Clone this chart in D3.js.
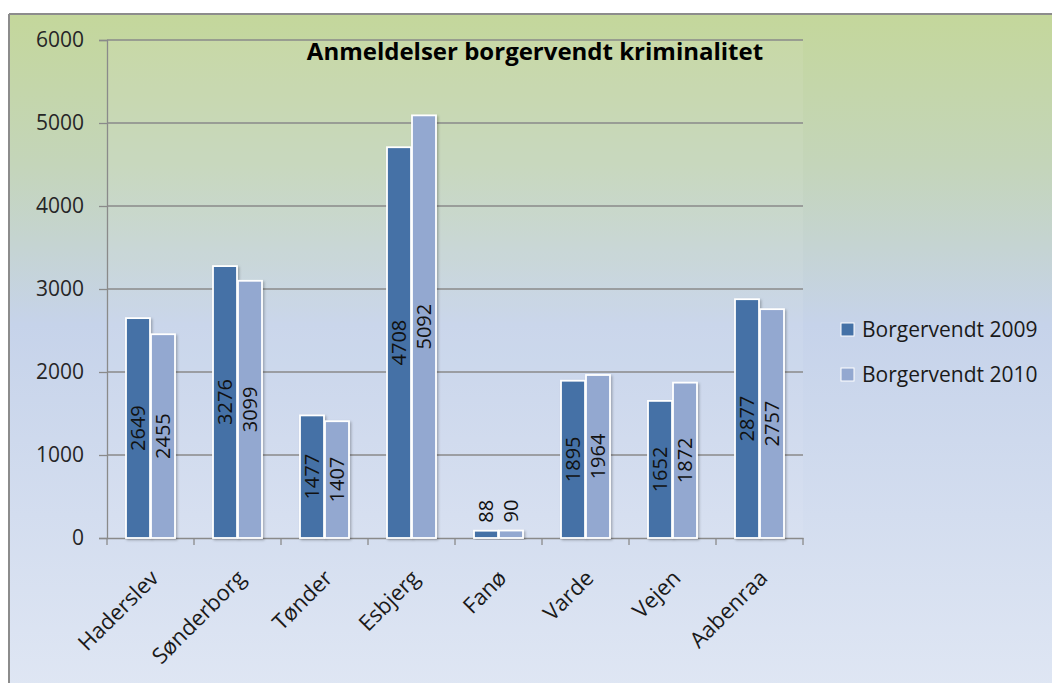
<!DOCTYPE html>
<html>
<head>
<meta charset="utf-8">
<script src="https://cdn.jsdelivr.net/npm/d3@7"></script>
<style>
	body { margin: 0; background: #fff; }
	text { font-family: "Open Sans", Lato, sans-serif; }
</style>
</head>
<body>
<svg id="chart" width="1052" height="683"></svg>
<script>
var categories = ['Haderslev', 'Sønderborg', 'Tønder', 'Esbjerg', 'Fanø', 'Varde', 'Vejen', 'Aabenraa'];
var seriesNames = ['Borgervendt 2009', 'Borgervendt 2010'];
var values2009 = [2649, 3276, 1477, 4708, 88, 1895, 1652, 2877];
var values2010 = [2455, 3099, 1407, 5092, 90, 1964, 1872, 2757];
var yTicks = [0, 1000, 2000, 3000, 4000, 5000, 6000];
var chartTitle = 'Anmeldelser borgervendt kriminalitet';

var colors = ['#4471a6', '#93a8d0'];

drawChart();

function drawChart() {
	var svg = d3.select('#chart');
	var defs = svg.append('defs');

	var bg = defs.append('linearGradient').attr('id', 'bg').attr('x1', 0).attr('y1', 0).attr('x2', 0).attr('y2', 1);
	bg.append('stop').attr('offset', '0%').attr('stop-color', '#c4d79b');
	bg.append('stop').attr('offset', '22%').attr('stop-color', '#c4d5ba');
	bg.append('stop').attr('offset', '45%').attr('stop-color', '#c6d3ea');
	bg.append('stop').attr('offset', '100%').attr('stop-color', '#e0e7f4');

	var shadow = defs.append('filter').attr('id', 'shadow').attr('x', '-20%').attr('y', '-10%').attr('width', '150%').attr('height', '130%');
	shadow.append('feDropShadow').attr('dx', 1.5).attr('dy', 1.5).attr('stdDeviation', 1.2)
		.attr('flood-color', '#000').attr('flood-opacity', 0.25);

	// chart area with frame (left + top edge visible)
	svg.append('rect').attr('x', 9).attr('y', 14).attr('width', 1060).attr('height', 690).style('fill', 'url(#bg)');
	svg.append('line').attr('x1', 9).attr('x2', 1052).attr('y1', 14).attr('y2', 14).style('stroke', '#8c8c8c').style('stroke-width', 2);
	svg.append('line').attr('x1', 9).attr('x2', 9).attr('y1', 14).attr('y2', 683).style('stroke', '#8c8c8c').style('stroke-width', 2);

	var plotLeft = 107, plotRight = 803, plotTop = 40, plotBottom = 538;

	svg.append('rect').attr('x', plotLeft).attr('y', plotTop).attr('width', plotRight - plotLeft).attr('height', plotBottom - plotTop)
		.style('fill', '#fff').style('opacity', 0.07);

	var xScale = d3.scaleBand().domain(categories).range([plotLeft, plotRight]).paddingInner(0).paddingOuter(0);
	var yScale = d3.scaleLinear().domain([0, 6000]).range([plotBottom, plotTop]);
	var groupWidth = 49;
	var xSub = d3.scaleBand().domain([0, 1]).range([0, groupWidth]).paddingInner(0.04);

	// grid lines
	svg.append('g').selectAll('line').data(yTicks.slice(1)).enter().append('line')
		.attr('x1', plotLeft).attr('x2', plotRight)
		.attr('y1', function (d) { return yScale(d); })
		.attr('y2', function (d) { return yScale(d); })
		.style('stroke', '#8a8a8a').style('stroke-width', 1.3);

	// y axis
	var yAxis = d3.axisLeft(yScale).tickValues(yTicks).tickSize(8).tickPadding(15).tickFormat(d3.format('d'));
	var gy = svg.append('g').attr('transform', 'translate(' + plotLeft + ',0)').call(yAxis);
	gy.selectAll('line, path').style('stroke', '#8a8a8a').style('stroke-width', 1.3);
	gy.selectAll('text').style('font-size', '21px').style('fill', '#262626').style('font-family', '"Open Sans", sans-serif');

	// x axis
	var xAxis = d3.axisBottom(xScale).tickSize(0).tickFormat('');
	var gx = svg.append('g').attr('transform', 'translate(0,' + plotBottom + ')').call(xAxis);
	gx.select('path').style('stroke', '#8a8a8a').style('stroke-width', 1.3);
	gx.selectAll('.sep').data(d3.range(categories.length + 1)).enter().append('line')
		.attr('class', 'sep')
		.attr('x1', function (i) { return plotLeft + i * xScale.bandwidth(); })
		.attr('x2', function (i) { return plotLeft + i * xScale.bandwidth(); })
		.attr('y1', 0).attr('y2', 7)
		.style('stroke', '#8a8a8a').style('stroke-width', 1.3);

	gx.selectAll('.cat').data(categories).enter().append('text')
		.attr('class', 'cat')
		.attr('transform', function (d) {
			return 'translate(' + (xScale(d) + xScale.bandwidth() / 2 + 4) + ',' + 36 + ') rotate(-45)';
		})
		.attr('text-anchor', 'end')
		.attr('dy', '0.35em')
		.style('font-size', '22px').style('fill', '#1a1a1a')
		.text(function (d) { return d; });

	// bars
	var series = [values2009, values2010];
	var barData = [];
	series.forEach(function (vals, s) {
		vals.forEach(function (v, i) {
			barData.push({ cat: categories[i], s: s, value: v });
		});
	});

	function barX(d) {
		return xScale(d.cat) + (xScale.bandwidth() - groupWidth) / 2 + xSub(d.s);
	}

	svg.append('g').selectAll('rect').data(barData).enter().append('rect')
		.attr('x', barX)
		.attr('y', function (d) { return yScale(d.value); })
		.attr('width', xSub.bandwidth())
		.attr('height', function (d) { return plotBottom - yScale(d.value); })
		.style('fill', function (d) { return colors[d.s]; })
		.style('stroke', '#fff').style('stroke-width', 1.8)
		.attr('filter', 'url(#shadow)');

	// value labels (rotated)
	svg.append('g').selectAll('text').data(barData).enter().append('text')
		.attr('transform', function (d) {
			var cx = barX(d) + xSub.bandwidth() / 2;
			var h = plotBottom - yScale(d.value);
			if (h < 40) {
				return 'translate(' + cx + ',' + (yScale(d.value) - 8) + ') rotate(-90)';
			}
			return 'translate(' + cx + ',' + (yScale(d.value) + h / 2) + ') rotate(-90)';
		})
		.attr('text-anchor', function (d) { return (plotBottom - yScale(d.value) < 40) ? 'start' : 'middle'; })
		.attr('dy', '0.36em')
		.style('font-size', '20px').style('fill', '#111')
		.text(function (d) { return d.value; });

	// title
	svg.append('text').attr('x', 535).attr('y', 60).attr('text-anchor', 'middle')
		.style('font-size', '24px').style('font-weight', 'bold').style('fill', '#000')
		.text(chartTitle);

	// legend
	var legend = svg.append('g').selectAll('g').data(seriesNames).enter().append('g')
		.attr('transform', function (d, i) { return 'translate(841,' + (323 + i * 45) + ')'; });
	legend.append('rect').attr('width', 13).attr('height', 13)
		.style('fill', function (d, i) { return colors[i]; })
		.style('stroke', '#fff').style('stroke-width', 1);
	legend.append('text').attr('x', 21).attr('y', 14)
		.style('font-size', '21px').style('fill', '#1a1a1a')
		.text(function (d) { return d; });
}
</script>
</body>
</html>
